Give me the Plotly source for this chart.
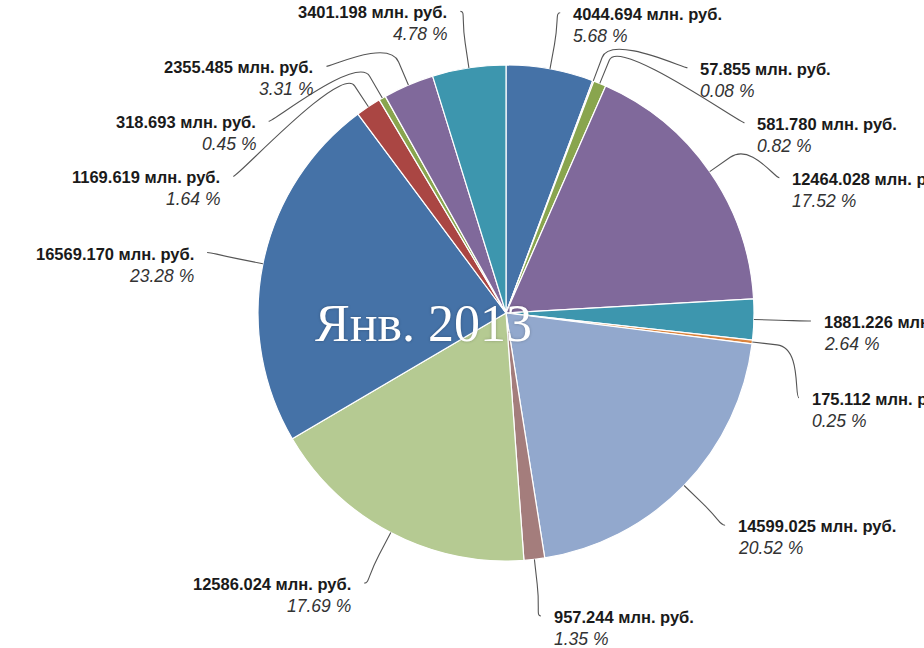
import math
import plotly.graph_objects as go

# ---- data ----
values = [4044.694, 57.855, 581.780, 12464.028, 1881.226, 175.112, 14599.025,
          957.244, 12586.024, 16569.170, 1169.619, 318.693, 2355.485, 3401.198]
unit = "млн. руб."
title_text = "Янв. 2013"

# ---- styles / layout ----
palette = ["#4572A7", "#AA4643", "#89A54E", "#80699B", "#3D96AE", "#DB843D",
           "#92A8CD", "#A47D7C", "#B5CA92"]
colors = [palette[i % len(palette)] for i in range(len(values))]

W, H = 924, 648
cx, cy, r = 506, 313, 248
label_r = 305
spacing = 55
gap = 11
font_fam = "Liberation Sans, Arial, sans-serif"

total = sum(values)
pcts = [v / total * 100 for v in values]

fig = go.Figure()
fig.add_trace(go.Pie(
    values=values, sort=False, direction="clockwise", rotation=0,
    marker=dict(colors=colors, line=dict(color="white", width=1.2)),
    textinfo="none", hoverinfo="skip", showlegend=False,
    domain=dict(x=[(cx - r) / W, (cx + r) / W],
                y=[1 - (cy + r) / H, 1 - (cy - r) / H]),
))

# mid angles (clockwise from top)
mids = []
acc = 0.0
for v in values:
    mids.append((acc + v / 2) / total * 2 * math.pi)
    acc += v

right = [i for i in range(len(values)) if math.sin(mids[i]) >= 0]
left = [i for i in range(len(values)) if math.sin(mids[i]) < 0]

ypos = {}
for side in (right, left):
    items = sorted(side, key=lambda i: cy - label_r * math.cos(mids[i]))
    prev = None
    top = None
    for i in items:
        nat = cy - label_r * math.cos(mids[i])
        if prev is None:
            y = nat
            top = nat
        elif nat < prev + spacing:
            k = math.ceil((prev + spacing - top) / spacing - 1e-6)
            y = top + k * spacing
        else:
            y = nat
        ypos[i] = y
        prev = y

shapes = []
annotations = []
for i in range(len(values)):
    th = mids[i]
    s = 1 if math.sin(th) >= 0 else -1
    ya = ypos[i]
    dy = max(-label_r, min(label_r, ya - cy))
    xa = cx + s * math.sqrt(label_r ** 2 - dy ** 2)
    ex, ey = cx + r * math.sin(th), cy - r * math.cos(th)
    bx, by = cx + (r + 25) * math.sin(th), cy - (r + 25) * math.cos(th)
    path = (f"M {xa:.1f} {ya:.1f} C {xa - 5 * s:.1f} {ya:.1f} {2 * bx - ex:.1f} {2 * by - ey:.1f} "
            f"{bx:.1f} {by:.1f} L {ex:.1f} {ey:.1f}")
    shapes.append(dict(type="path", path=path, xref="x", yref="y",
                       line=dict(color="#555555", width=1.1), layer="above"))
    tx = xa + s * gap
    anchor = "left" if s > 0 else "right"
    annotations.append(dict(x=tx, y=ya + 1, xref="x", yref="y", showarrow=False,
                            text=f"{values[i]:.3f} {unit}", xanchor=anchor, yanchor="middle",
                            font=dict(family=font_fam, size=16.5, color="#1a1a1a", weight="bold")))
    annotations.append(dict(x=tx, y=ya + 23, xref="x", yref="y", showarrow=False,
                            text=f"{pcts[i]:.2f} %", xanchor=anchor, yanchor="middle",
                            font=dict(family=font_fam, size=17.5, color="#333333", style="italic")))

annotations.append(dict(x=423, y=323, xref="x", yref="y", showarrow=False,
                        text=title_text, xanchor="center", yanchor="middle",
                        font=dict(family="Liberation Serif, DejaVu Serif, serif", size=52,
                                  color="white", shadow="0px 0px 3px rgba(0,0,0,0.25)")))

fig.update_layout(
    width=W, height=H, margin=dict(l=0, r=0, t=0, b=0),
    paper_bgcolor="white", plot_bgcolor="rgba(0,0,0,0)",
    xaxis=dict(range=[0, W], visible=False, fixedrange=True),
    yaxis=dict(range=[H, 0], visible=False, fixedrange=True),
    shapes=shapes, annotations=annotations, showlegend=False,
)
fig.write_html("out.html", config={"displayModeBar": False},
               post_script="document.body.style.margin='0';")
